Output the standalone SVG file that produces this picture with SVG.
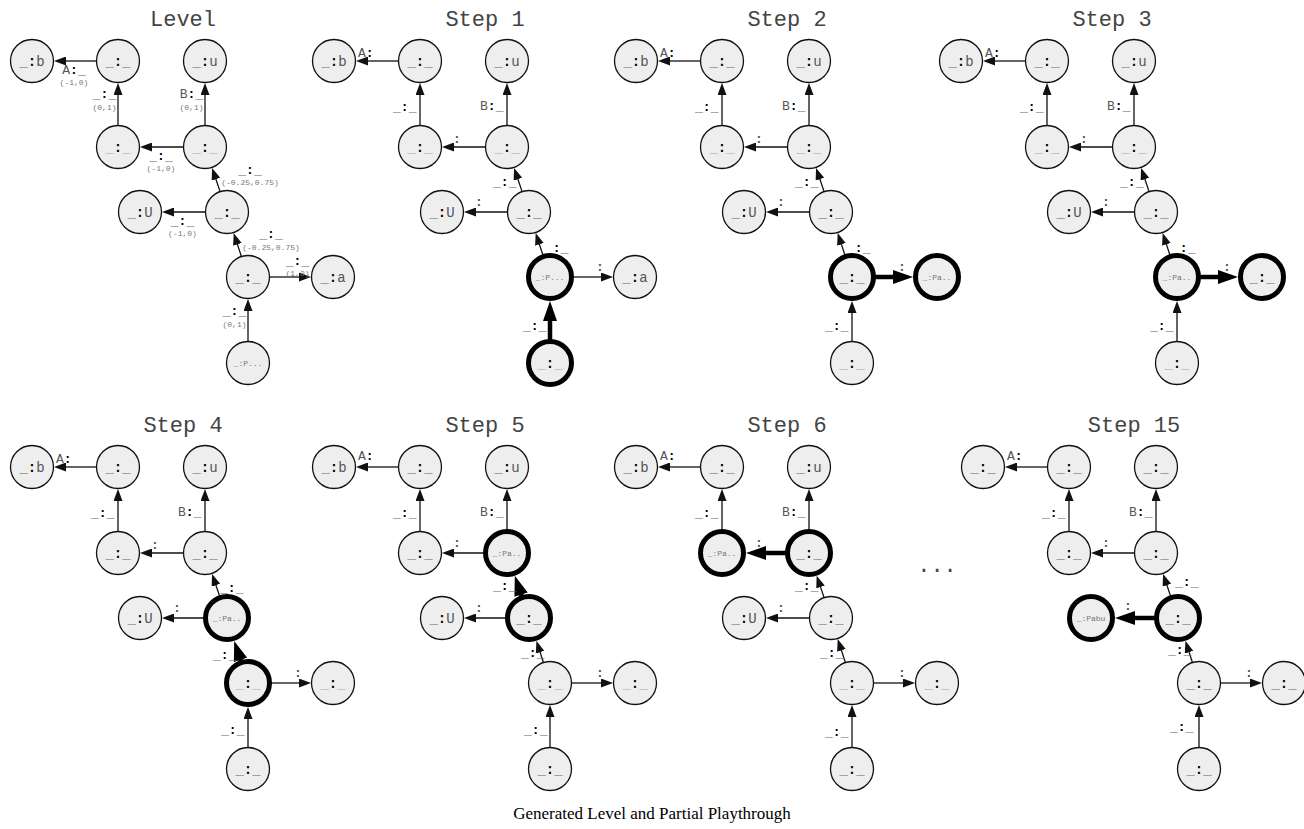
<svg xmlns="http://www.w3.org/2000/svg" width="1304" height="829" viewBox="0 0 1304 829">
<style>
.ttl{font-family:"Liberation Mono",monospace;font-size:22px;fill:#444;text-anchor:middle}
.n circle{fill:#eeeeee;stroke:#111;stroke-width:1.3}
.n.hl circle{stroke:#000;stroke-width:5}
.n text{font-family:"Liberation Mono",monospace;font-size:14px;fill:#555;text-anchor:middle}
.n text.sm{font-size:8px;fill:#777}
.k{fill:#000;font-weight:bold}
.us{fill:#666}
.ul{fill:#aaa}
.e line{stroke:#111;stroke-width:1.3;marker-end:url(#ah)}
.e line.th{stroke:#000;stroke-width:4.5;marker-end:url(#ahb)}
.el{font-family:"Liberation Mono",monospace;font-size:13px;fill:#555}
.lm{text-anchor:middle}
.co{font-family:"Liberation Mono",monospace;font-size:8px;fill:#777;text-anchor:middle}
.cap{font-family:"Liberation Serif",serif;font-size:17px;fill:#000;text-anchor:middle}
</style>
<defs>
<marker id="ah" markerUnits="userSpaceOnUse" markerWidth="12" markerHeight="9" refX="1" refY="4.5" orient="auto"><path d="M0,0L12,4.5L0,9z" fill="#111"/></marker>
<marker id="ahb" markerUnits="userSpaceOnUse" markerWidth="20" markerHeight="14" refX="1" refY="7" orient="auto"><path d="M0,0L20,7L0,14z" fill="#000"/></marker>
</defs>
<rect width="1304" height="829" fill="#fff"/>

<!-- Level -->
<g id="p-level">
<text class="ttl" x="183" y="26">Level</text>
<g id="lv-edges" class="e">
<line x1="96.5" y1="61" x2="65" y2="61"/>
<line x1="118" y1="125.5" x2="118" y2="94"/>
<line x1="205" y1="125.5" x2="205" y2="94"/>
<line x1="183.5" y1="147" x2="151" y2="147"/>
<line x1="220.1" y1="191.6" x2="215.6" y2="178.3"/>
<line x1="205.5" y1="212" x2="173" y2="212"/>
<line x1="241.4" y1="256.5" x2="237.1" y2="243.4"/>
<line x1="269.5" y1="277" x2="300" y2="277"/>
<line x1="248" y1="341.5" x2="248" y2="310"/>
</g>
<g id="lv-labels">
<text class="el lm" x="74" y="74">A<tspan class="k">:</tspan><tspan class="us">_</tspan></text><text class="co" x="74" y="85">(-1,0)</text>
<text class="el lm" x="104.5" y="98"><tspan class="us">_</tspan><tspan class="k">:</tspan><tspan class="us">_</tspan></text><text class="co" x="104.5" y="110">(0,1)</text>
<text class="el lm" x="191.5" y="98">B<tspan class="k">:</tspan><tspan class="us">_</tspan></text><text class="co" x="191.5" y="110">(0,1)</text>
<text class="el lm" x="161" y="160"><tspan class="us">_</tspan><tspan class="k">:</tspan><tspan class="us">_</tspan></text><text class="co" x="161" y="171">(-1,0)</text>
<text class="el lm" x="250" y="174"><tspan class="us">_</tspan><tspan class="k">:</tspan><tspan class="us">_</tspan></text><text class="co" x="250" y="185">(-0.25,0.75)</text>
<text class="el lm" x="182.5" y="225"><tspan class="us">_</tspan><tspan class="k">:</tspan><tspan class="us">_</tspan></text><text class="co" x="182.5" y="236">(-1,0)</text>
<text class="el lm" x="271" y="238"><tspan class="us">_</tspan><tspan class="k">:</tspan><tspan class="us">_</tspan></text><text class="co" x="271" y="250">(-0.25,0.75)</text>
<text class="el lm" x="297.5" y="265"><tspan class="us">_</tspan><tspan class="k">:</tspan><tspan class="us">_</tspan></text><text class="co" x="297.5" y="276">(1,0)</text>
<text class="el lm" x="234.5" y="315"><tspan class="us">_</tspan><tspan class="k">:</tspan><tspan class="us">_</tspan></text><text class="co" x="234.5" y="327">(0,1)</text>
</g>
<g id="lv-b" class="n" transform="translate(32,61)"><circle r="21.5"/><text y="5"><tspan class="us">_</tspan><tspan class="k">:</tspan>b</text></g>
<g id="lv-t1" class="n" transform="translate(118,61)"><circle r="21.5"/><text y="5"><tspan class="us">_</tspan><tspan class="k">:</tspan><tspan class="us">_</tspan></text></g>
<g id="lv-u" class="n" transform="translate(205,61)"><circle r="21.5"/><text y="5"><tspan class="us">_</tspan><tspan class="k">:</tspan>u</text></g>
<g id="lv-m1" class="n" transform="translate(118,147)"><circle r="21.5"/><text y="5"><tspan class="ul">_</tspan><tspan class="k">:</tspan><tspan class="ul">_</tspan></text></g>
<g id="lv-m2" class="n" transform="translate(205,147)"><circle r="21.5"/><text y="5"><tspan class="ul">_</tspan><tspan class="k">:</tspan><tspan class="ul">_</tspan></text></g>
<g id="lv-U" class="n" transform="translate(140,212)"><circle r="21.5"/><text y="5"><tspan class="us">_</tspan><tspan class="k">:</tspan>U</text></g>
<g id="lv-c" class="n" transform="translate(227,212)"><circle r="21.5"/><text y="5"><tspan class="us">_</tspan><tspan class="k">:</tspan><tspan class="us">_</tspan></text></g>
<g id="lv-d" class="n" transform="translate(248,277)"><circle r="21.5"/><text y="5"><tspan class="us">_</tspan><tspan class="k">:</tspan><tspan class="us">_</tspan></text></g>
<g id="lv-a" class="n" transform="translate(333,277)"><circle r="21.5"/><text y="5"><tspan class="us">_</tspan><tspan class="k">:</tspan>a</text></g>
<g id="lv-P" class="n" transform="translate(248,363)"><circle r="21.5"/><text class="sm" y="3">_:P...</text></g>
</g>

<!-- Step 1 -->
<g id="p-s1" transform="translate(302,0)">
<text class="ttl" x="183" y="26">Step 1</text>
<g id="s1-edges" class="e">
<line x1="96.5" y1="61" x2="65" y2="61"/>
<line x1="118" y1="125.5" x2="118" y2="94"/>
<line x1="205" y1="125.5" x2="205" y2="94"/>
<line x1="183.5" y1="147" x2="151" y2="147"/>
<line x1="220.1" y1="191.6" x2="215.6" y2="178.3"/>
<line x1="205.5" y1="212" x2="173" y2="212"/>
<line x1="241.4" y1="256.5" x2="237.1" y2="243.4"/>
<line x1="269.5" y1="277" x2="300" y2="277"/>
<line class="th" x1="248" y1="341.5" x2="248" y2="320"/>
</g>
<g id="s1-labels">
<text class="el" x="56" y="57">A<tspan class="k">:</tspan></text>
<text class="el" x="91" y="111"><tspan class="us">_</tspan><tspan class="k">:</tspan><tspan class="us">_</tspan></text>
<text class="el" x="178" y="110">B<tspan class="k">:</tspan><tspan class="us">_</tspan></text>
<text class="el lm k" x="155" y="143">:</text>
<text class="el" x="191" y="186"><tspan class="us">_</tspan><tspan class="k">:</tspan><tspan class="us">_</tspan></text>
<text class="el lm k" x="177" y="206">:</text>
<text class="el" x="243" y="252"><tspan class="us">_</tspan><tspan class="k">:</tspan><tspan class="us">_</tspan></text>
<text class="el lm k" x="298" y="271">:</text>
<text class="el" x="221" y="330"><tspan class="us">_</tspan><tspan class="k">:</tspan><tspan class="us">_</tspan></text>
</g>
<g id="s1-b" class="n" transform="translate(32,61)"><circle r="21.5"/><text y="5"><tspan class="us">_</tspan><tspan class="k">:</tspan>b</text></g>
<g id="s1-t1" class="n" transform="translate(118,61)"><circle r="21.5"/><text y="5"><tspan class="us">_</tspan><tspan class="k">:</tspan><tspan class="us">_</tspan></text></g>
<g id="s1-u" class="n" transform="translate(205,61)"><circle r="21.5"/><text y="5"><tspan class="us">_</tspan><tspan class="k">:</tspan>u</text></g>
<g id="s1-m1" class="n" transform="translate(118,147)"><circle r="21.5"/><text y="5"><tspan class="ul">_</tspan><tspan class="k">:</tspan><tspan class="ul">_</tspan></text></g>
<g id="s1-m2" class="n" transform="translate(205,147)"><circle r="21.5"/><text y="5"><tspan class="ul">_</tspan><tspan class="k">:</tspan><tspan class="ul">_</tspan></text></g>
<g id="s1-U" class="n" transform="translate(140,212)"><circle r="21.5"/><text y="5"><tspan class="us">_</tspan><tspan class="k">:</tspan>U</text></g>
<g id="s1-c" class="n" transform="translate(227,212)"><circle r="21.5"/><text y="5"><tspan class="us">_</tspan><tspan class="k">:</tspan><tspan class="us">_</tspan></text></g>
<g id="s1-d" class="n hl" transform="translate(248,277)"><circle r="21.5"/><text class="sm" y="3">_:P...</text></g>
<g id="s1-a" class="n" transform="translate(333,277)"><circle r="21.5"/><text y="5"><tspan class="us">_</tspan><tspan class="k">:</tspan>a</text></g>
<g id="s1-P" class="n hl" transform="translate(248,363)"><circle r="21.5"/><text y="5"><tspan class="ul">_</tspan><tspan class="k">:</tspan><tspan class="ul">_</tspan></text></g>
</g>

<!-- Step 2 -->
<g id="p-s2" transform="translate(604,0)">
<text class="ttl" x="183" y="26">Step 2</text>
<g id="s2-edges" class="e">
<line x1="96.5" y1="61" x2="65" y2="61"/>
<line x1="118" y1="125.5" x2="118" y2="94"/>
<line x1="205" y1="125.5" x2="205" y2="94"/>
<line x1="183.5" y1="147" x2="151" y2="147"/>
<line x1="220.1" y1="191.6" x2="215.6" y2="178.3"/>
<line x1="205.5" y1="212" x2="173" y2="212"/>
<line x1="241.4" y1="256.5" x2="237.1" y2="243.4"/>
<line class="th" x1="269.5" y1="277" x2="290" y2="277"/>
<line x1="248" y1="341.5" x2="248" y2="312"/>
</g>
<g id="s2-labels">
<text class="el" x="56" y="57">A<tspan class="k">:</tspan></text>
<text class="el" x="91" y="111"><tspan class="us">_</tspan><tspan class="k">:</tspan><tspan class="us">_</tspan></text>
<text class="el" x="178" y="110">B<tspan class="k">:</tspan><tspan class="us">_</tspan></text>
<text class="el lm k" x="155" y="143">:</text>
<text class="el" x="191" y="186"><tspan class="us">_</tspan><tspan class="k">:</tspan><tspan class="us">_</tspan></text>
<text class="el lm k" x="177" y="206">:</text>
<text class="el" x="243" y="252"><tspan class="us">_</tspan><tspan class="k">:</tspan><tspan class="us">_</tspan></text>
<text class="el lm k" x="298" y="271">:</text>
<text class="el" x="221" y="330"><tspan class="us">_</tspan><tspan class="k">:</tspan><tspan class="us">_</tspan></text>
</g>
<g id="s2-b" class="n" transform="translate(32,61)"><circle r="21.5"/><text y="5"><tspan class="us">_</tspan><tspan class="k">:</tspan>b</text></g>
<g id="s2-t1" class="n" transform="translate(118,61)"><circle r="21.5"/><text y="5"><tspan class="us">_</tspan><tspan class="k">:</tspan><tspan class="us">_</tspan></text></g>
<g id="s2-u" class="n" transform="translate(205,61)"><circle r="21.5"/><text y="5"><tspan class="us">_</tspan><tspan class="k">:</tspan>u</text></g>
<g id="s2-m1" class="n" transform="translate(118,147)"><circle r="21.5"/><text y="5"><tspan class="ul">_</tspan><tspan class="k">:</tspan><tspan class="ul">_</tspan></text></g>
<g id="s2-m2" class="n" transform="translate(205,147)"><circle r="21.5"/><text y="5"><tspan class="ul">_</tspan><tspan class="k">:</tspan><tspan class="ul">_</tspan></text></g>
<g id="s2-U" class="n" transform="translate(140,212)"><circle r="21.5"/><text y="5"><tspan class="us">_</tspan><tspan class="k">:</tspan>U</text></g>
<g id="s2-c" class="n" transform="translate(227,212)"><circle r="21.5"/><text y="5"><tspan class="us">_</tspan><tspan class="k">:</tspan><tspan class="us">_</tspan></text></g>
<g id="s2-d" class="n hl" transform="translate(248,277)"><circle r="21.5"/><text y="5"><tspan class="us">_</tspan><tspan class="k">:</tspan><tspan class="us">_</tspan></text></g>
<g id="s2-a" class="n hl" transform="translate(333,277)"><circle r="21.5"/><text class="sm" y="3">_:Pa..</text></g>
<g id="s2-P" class="n" transform="translate(248,363)"><circle r="21.5"/><text y="5"><tspan class="ul">_</tspan><tspan class="k">:</tspan><tspan class="ul">_</tspan></text></g>
</g>

<!-- Step 3 -->
<g id="p-s3" transform="translate(929,0)">
<text class="ttl" x="183" y="26">Step 3</text>
<g id="s3-edges" class="e">
<line x1="96.5" y1="61" x2="65" y2="61"/>
<line x1="118" y1="125.5" x2="118" y2="94"/>
<line x1="205" y1="125.5" x2="205" y2="94"/>
<line x1="183.5" y1="147" x2="151" y2="147"/>
<line x1="220.1" y1="191.6" x2="215.6" y2="178.3"/>
<line x1="205.5" y1="212" x2="173" y2="212"/>
<line x1="241.4" y1="256.5" x2="237.1" y2="243.4"/>
<line class="th" x1="269.5" y1="277" x2="290" y2="277"/>
<line x1="248" y1="341.5" x2="248" y2="312"/>
</g>
<g id="s3-labels">
<text class="el" x="56" y="57">A<tspan class="k">:</tspan></text>
<text class="el" x="91" y="111"><tspan class="us">_</tspan><tspan class="k">:</tspan><tspan class="us">_</tspan></text>
<text class="el" x="178" y="110">B<tspan class="k">:</tspan><tspan class="us">_</tspan></text>
<text class="el lm k" x="155" y="143">:</text>
<text class="el" x="191" y="186"><tspan class="us">_</tspan><tspan class="k">:</tspan><tspan class="us">_</tspan></text>
<text class="el lm k" x="177" y="206">:</text>
<text class="el" x="243" y="252"><tspan class="us">_</tspan><tspan class="k">:</tspan><tspan class="us">_</tspan></text>
<text class="el lm k" x="298" y="271">:</text>
<text class="el" x="221" y="330"><tspan class="us">_</tspan><tspan class="k">:</tspan><tspan class="us">_</tspan></text>
</g>
<g id="s3-b" class="n" transform="translate(32,61)"><circle r="21.5"/><text y="5"><tspan class="us">_</tspan><tspan class="k">:</tspan>b</text></g>
<g id="s3-t1" class="n" transform="translate(118,61)"><circle r="21.5"/><text y="5"><tspan class="us">_</tspan><tspan class="k">:</tspan><tspan class="us">_</tspan></text></g>
<g id="s3-u" class="n" transform="translate(205,61)"><circle r="21.5"/><text y="5"><tspan class="us">_</tspan><tspan class="k">:</tspan>u</text></g>
<g id="s3-m1" class="n" transform="translate(118,147)"><circle r="21.5"/><text y="5"><tspan class="ul">_</tspan><tspan class="k">:</tspan><tspan class="ul">_</tspan></text></g>
<g id="s3-m2" class="n" transform="translate(205,147)"><circle r="21.5"/><text y="5"><tspan class="ul">_</tspan><tspan class="k">:</tspan><tspan class="ul">_</tspan></text></g>
<g id="s3-U" class="n" transform="translate(140,212)"><circle r="21.5"/><text y="5"><tspan class="us">_</tspan><tspan class="k">:</tspan>U</text></g>
<g id="s3-c" class="n" transform="translate(227,212)"><circle r="21.5"/><text y="5"><tspan class="us">_</tspan><tspan class="k">:</tspan><tspan class="us">_</tspan></text></g>
<g id="s3-d" class="n hl" transform="translate(248,277)"><circle r="21.5"/><text class="sm" y="3">_:Pa..</text></g>
<g id="s3-a" class="n hl" transform="translate(333,277)"><circle r="21.5"/><text y="5"><tspan class="us">_</tspan><tspan class="k">:</tspan><tspan class="us">_</tspan></text></g>
<g id="s3-P" class="n" transform="translate(248,363)"><circle r="21.5"/><text y="5"><tspan class="ul">_</tspan><tspan class="k">:</tspan><tspan class="ul">_</tspan></text></g>
</g>

<!-- Step 4 -->
<g id="p-s4" transform="translate(0,406)">
<text class="ttl" x="183" y="26">Step 4</text>
<g id="s4-edges" class="e">
<line x1="96.5" y1="61" x2="65" y2="61"/>
<line x1="118" y1="125.5" x2="118" y2="94"/>
<line x1="205" y1="125.5" x2="205" y2="94"/>
<line x1="183.5" y1="147" x2="151" y2="147"/>
<line x1="220.1" y1="191.6" x2="215.6" y2="178.3"/>
<line x1="205.5" y1="212" x2="173" y2="212"/>
<line class="th" x1="241.4" y1="256.5" x2="240.2" y2="252.9"/>
<line x1="269.5" y1="277" x2="300" y2="277"/>
<line x1="248" y1="341.5" x2="248" y2="312"/>
</g>
<g id="s4-labels">
<text class="el" x="56" y="57">A<tspan class="k">:</tspan></text>
<text class="el" x="91" y="111"><tspan class="us">_</tspan><tspan class="k">:</tspan><tspan class="us">_</tspan></text>
<text class="el" x="178" y="110">B<tspan class="k">:</tspan><tspan class="us">_</tspan></text>
<text class="el lm k" x="155" y="143">:</text>
<text class="el" x="220" y="186"><tspan class="us">_</tspan><tspan class="k">:</tspan><tspan class="us">_</tspan></text>
<text class="el lm k" x="177" y="206">:</text>
<text class="el" x="213" y="253"><tspan class="us">_</tspan><tspan class="k">:</tspan><tspan class="us">_</tspan></text>
<text class="el lm k" x="298" y="271">:</text>
<text class="el" x="221" y="328"><tspan class="us">_</tspan><tspan class="k">:</tspan><tspan class="us">_</tspan></text>
</g>
<g id="s4-b" class="n" transform="translate(32,61)"><circle r="21.5"/><text y="5"><tspan class="us">_</tspan><tspan class="k">:</tspan>b</text></g>
<g id="s4-t1" class="n" transform="translate(118,61)"><circle r="21.5"/><text y="5"><tspan class="us">_</tspan><tspan class="k">:</tspan><tspan class="us">_</tspan></text></g>
<g id="s4-u" class="n" transform="translate(205,61)"><circle r="21.5"/><text y="5"><tspan class="us">_</tspan><tspan class="k">:</tspan>u</text></g>
<g id="s4-m1" class="n" transform="translate(118,147)"><circle r="21.5"/><text y="5"><tspan class="us">_</tspan><tspan class="k">:</tspan><tspan class="us">_</tspan></text></g>
<g id="s4-m2" class="n" transform="translate(205,147)"><circle r="21.5"/><text y="5"><tspan class="us">_</tspan><tspan class="k">:</tspan><tspan class="us">_</tspan></text></g>
<g id="s4-U" class="n" transform="translate(140,212)"><circle r="21.5"/><text y="5"><tspan class="us">_</tspan><tspan class="k">:</tspan>U</text></g>
<g id="s4-c" class="n hl" transform="translate(227,212)"><circle r="21.5"/><text class="sm" y="3">_:Pa..</text></g>
<g id="s4-d" class="n hl" transform="translate(248,277)"><circle r="21.5"/><text y="5"><tspan class="ul">_</tspan><tspan class="k">:</tspan><tspan class="ul">_</tspan></text></g>
<g id="s4-a" class="n" transform="translate(333,277)"><circle r="21.5"/><text y="5"><tspan class="ul">_</tspan><tspan class="k">:</tspan><tspan class="ul">_</tspan></text></g>
<g id="s4-P" class="n" transform="translate(248,363)"><circle r="21.5"/><text y="5"><tspan class="us">_</tspan><tspan class="k">:</tspan><tspan class="us">_</tspan></text></g>
</g>

<!-- Step 5 -->
<g id="p-s5" transform="translate(302,406)">
<text class="ttl" x="183" y="26">Step 5</text>
<g id="s5-edges" class="e">
<line x1="96.5" y1="61" x2="65" y2="61"/>
<line x1="118" y1="125.5" x2="118" y2="94"/>
<line x1="205" y1="125.5" x2="205" y2="94"/>
<line x1="183.5" y1="147" x2="151" y2="147"/>
<line class="th" x1="220.1" y1="191.6" x2="218.8" y2="187.7"/>
<line x1="205.5" y1="212" x2="173" y2="212"/>
<line x1="241.4" y1="256.5" x2="237.8" y2="245.3"/>
<line x1="269.5" y1="277" x2="300" y2="277"/>
<line x1="248" y1="341.5" x2="248" y2="310"/>
</g>
<g id="s5-labels">
<text class="el" x="56" y="54">A<tspan class="k">:</tspan></text>
<text class="el" x="91" y="111"><tspan class="us">_</tspan><tspan class="k">:</tspan><tspan class="us">_</tspan></text>
<text class="el" x="178" y="110">B<tspan class="k">:</tspan><tspan class="us">_</tspan></text>
<text class="el lm k" x="155" y="141">:</text>
<text class="el" x="191" y="184"><tspan class="us">_</tspan><tspan class="k">:</tspan><tspan class="us">_</tspan></text>
<text class="el lm k" x="177" y="206">:</text>
<text class="el" x="219" y="251"><tspan class="us">_</tspan><tspan class="k">:</tspan><tspan class="us">_</tspan></text>
<text class="el lm k" x="298" y="271">:</text>
<text class="el" x="222" y="328"><tspan class="us">_</tspan><tspan class="k">:</tspan><tspan class="us">_</tspan></text>
</g>
<g id="s5-b" class="n" transform="translate(32,61)"><circle r="21.5"/><text y="5"><tspan class="us">_</tspan><tspan class="k">:</tspan>b</text></g>
<g id="s5-t1" class="n" transform="translate(118,61)"><circle r="21.5"/><text y="5"><tspan class="us">_</tspan><tspan class="k">:</tspan><tspan class="us">_</tspan></text></g>
<g id="s5-u" class="n" transform="translate(205,61)"><circle r="21.5"/><text y="5"><tspan class="us">_</tspan><tspan class="k">:</tspan>u</text></g>
<g id="s5-m1" class="n" transform="translate(118,147)"><circle r="21.5"/><text y="5"><tspan class="us">_</tspan><tspan class="k">:</tspan><tspan class="us">_</tspan></text></g>
<g id="s5-m2" class="n hl" transform="translate(205,147)"><circle r="21.5"/><text class="sm" y="3">_:Pa..</text></g>
<g id="s5-U" class="n" transform="translate(140,212)"><circle r="21.5"/><text y="5"><tspan class="us">_</tspan><tspan class="k">:</tspan>U</text></g>
<g id="s5-c" class="n hl" transform="translate(227,212)"><circle r="21.5"/><text y="5"><tspan class="us">_</tspan><tspan class="k">:</tspan><tspan class="us">_</tspan></text></g>
<g id="s5-d" class="n" transform="translate(248,277)"><circle r="21.5"/><text y="5"><tspan class="ul">_</tspan><tspan class="k">:</tspan><tspan class="ul">_</tspan></text></g>
<g id="s5-a" class="n" transform="translate(333,277)"><circle r="21.5"/><text y="5"><tspan class="ul">_</tspan><tspan class="k">:</tspan><tspan class="ul">_</tspan></text></g>
<g id="s5-P" class="n" transform="translate(248,363)"><circle r="21.5"/><text y="5"><tspan class="us">_</tspan><tspan class="k">:</tspan><tspan class="us">_</tspan></text></g>
</g>

<!-- Step 6 -->
<g id="p-s6" transform="translate(604,406)">
<text class="ttl" x="183" y="26">Step 6</text>
<g id="s6-edges" class="e">
<line x1="96.5" y1="61" x2="65" y2="61"/>
<line x1="118" y1="125.5" x2="118" y2="94"/>
<line x1="205" y1="125.5" x2="205" y2="94"/>
<line class="th" x1="183.5" y1="147" x2="161" y2="147"/>
<line x1="220.1" y1="191.6" x2="216.2" y2="180.1"/>
<line x1="205.5" y1="212" x2="173" y2="212"/>
<line x1="241.4" y1="256.5" x2="237.1" y2="243.4"/>
<line x1="269.5" y1="277" x2="300" y2="277"/>
<line x1="248" y1="341.5" x2="248" y2="310"/>
</g>
<g id="s6-labels">
<text class="el" x="56" y="54">A<tspan class="k">:</tspan></text>
<text class="el" x="91" y="111"><tspan class="us">_</tspan><tspan class="k">:</tspan><tspan class="us">_</tspan></text>
<text class="el" x="178" y="110">B<tspan class="k">:</tspan><tspan class="us">_</tspan></text>
<text class="el lm k" x="155" y="141">:</text>
<text class="el" x="191" y="184"><tspan class="us">_</tspan><tspan class="k">:</tspan><tspan class="us">_</tspan></text>
<text class="el lm k" x="177" y="206">:</text>
<text class="el" x="216" y="251"><tspan class="us">_</tspan><tspan class="k">:</tspan><tspan class="us">_</tspan></text>
<text class="el lm k" x="298" y="271">:</text>
<text class="el" x="221" y="330"><tspan class="us">_</tspan><tspan class="k">:</tspan><tspan class="us">_</tspan></text>
</g>
<g id="s6-b" class="n" transform="translate(32,61)"><circle r="21.5"/><text y="5"><tspan class="us">_</tspan><tspan class="k">:</tspan>b</text></g>
<g id="s6-t1" class="n" transform="translate(118,61)"><circle r="21.5"/><text y="5"><tspan class="us">_</tspan><tspan class="k">:</tspan><tspan class="us">_</tspan></text></g>
<g id="s6-u" class="n" transform="translate(205,61)"><circle r="21.5"/><text y="5"><tspan class="us">_</tspan><tspan class="k">:</tspan>u</text></g>
<g id="s6-m1" class="n hl" transform="translate(118,147)"><circle r="21.5"/><text class="sm" y="3">_:Pa..</text></g>
<g id="s6-m2" class="n hl" transform="translate(205,147)"><circle r="21.5"/><text y="5"><tspan class="us">_</tspan><tspan class="k">:</tspan><tspan class="us">_</tspan></text></g>
<g id="s6-U" class="n" transform="translate(140,212)"><circle r="21.5"/><text y="5"><tspan class="us">_</tspan><tspan class="k">:</tspan>U</text></g>
<g id="s6-c" class="n" transform="translate(227,212)"><circle r="21.5"/><text y="5"><tspan class="us">_</tspan><tspan class="k">:</tspan><tspan class="us">_</tspan></text></g>
<g id="s6-d" class="n" transform="translate(248,277)"><circle r="21.5"/><text y="5"><tspan class="ul">_</tspan><tspan class="k">:</tspan><tspan class="ul">_</tspan></text></g>
<g id="s6-a" class="n" transform="translate(333,277)"><circle r="21.5"/><text y="5"><tspan class="ul">_</tspan><tspan class="k">:</tspan><tspan class="ul">_</tspan></text></g>
<g id="s6-P" class="n" transform="translate(248,363)"><circle r="21.5"/><text y="5"><tspan class="us">_</tspan><tspan class="k">:</tspan><tspan class="us">_</tspan></text></g>
</g>

<text id="ellipsis" class="ttl" x="937" y="572">...</text>

<!-- Step 15 -->
<g id="p-s15" transform="translate(951,406)">
<text class="ttl" x="183" y="26">Step 15</text>
<g id="s15-edges" class="e">
<line x1="96.5" y1="61" x2="65" y2="61"/>
<line x1="118" y1="125.5" x2="118" y2="94"/>
<line x1="205" y1="125.5" x2="205" y2="94"/>
<line x1="183.5" y1="147" x2="151" y2="147"/>
<line x1="220.1" y1="191.6" x2="215.6" y2="178.3"/>
<line class="th" x1="205.5" y1="212" x2="183" y2="212"/>
<line x1="241.4" y1="256.5" x2="237.8" y2="245.3"/>
<line x1="269.5" y1="277" x2="300" y2="277"/>
<line x1="248" y1="341.5" x2="248" y2="310"/>
</g>
<g id="s15-labels">
<text class="el" x="56" y="54">A<tspan class="k">:</tspan></text>
<text class="el" x="91" y="111"><tspan class="us">_</tspan><tspan class="k">:</tspan><tspan class="us">_</tspan></text>
<text class="el" x="178" y="110">B<tspan class="k">:</tspan><tspan class="us">_</tspan></text>
<text class="el lm k" x="155" y="141">:</text>
<text class="el" x="224" y="180"><tspan class="us">_</tspan><tspan class="k">:</tspan><tspan class="us">_</tspan></text>
<text class="el lm k" x="177" y="204">:</text>
<text class="el" x="217" y="248"><tspan class="us">_</tspan><tspan class="k">:</tspan><tspan class="us">_</tspan></text>
<text class="el lm k" x="298" y="271">:</text>
<text class="el" x="219" y="325"><tspan class="us">_</tspan><tspan class="k">:</tspan><tspan class="us">_</tspan></text>
</g>
<g id="s15-b" class="n" transform="translate(32,61)"><circle r="21.5"/><text y="5"><tspan class="us">_</tspan><tspan class="k">:</tspan><tspan class="us">_</tspan></text></g>
<g id="s15-t1" class="n" transform="translate(118,61)"><circle r="21.5"/><text y="5"><tspan class="us">_</tspan><tspan class="k">:</tspan><tspan class="us">_</tspan></text></g>
<g id="s15-u" class="n" transform="translate(205,61)"><circle r="21.5"/><text y="5"><tspan class="us">_</tspan><tspan class="k">:</tspan><tspan class="us">_</tspan></text></g>
<g id="s15-m1" class="n" transform="translate(118,147)"><circle r="21.5"/><text y="5"><tspan class="us">_</tspan><tspan class="k">:</tspan><tspan class="us">_</tspan></text></g>
<g id="s15-m2" class="n" transform="translate(205,147)"><circle r="21.5"/><text y="5"><tspan class="us">_</tspan><tspan class="k">:</tspan><tspan class="us">_</tspan></text></g>
<g id="s15-U" class="n hl" transform="translate(140,212)"><circle r="21.5"/><text class="sm" y="3">_:Pabu</text></g>
<g id="s15-c" class="n hl" transform="translate(227,212)"><circle r="21.5"/><text y="5"><tspan class="us">_</tspan><tspan class="k">:</tspan><tspan class="us">_</tspan></text></g>
<g id="s15-d" class="n" transform="translate(248,277)"><circle r="21.5"/><text y="5"><tspan class="us">_</tspan><tspan class="k">:</tspan><tspan class="us">_</tspan></text></g>
<g id="s15-a" class="n" transform="translate(333,277)"><circle r="21.5"/><text y="5"><tspan class="us">_</tspan><tspan class="k">:</tspan><tspan class="us">_</tspan></text></g>
<g id="s15-P" class="n" transform="translate(248,363)"><circle r="21.5"/><text y="5"><tspan class="us">_</tspan><tspan class="k">:</tspan><tspan class="us">_</tspan></text></g>
</g>

<text class="cap" x="652" y="819">Generated Level and Partial Playthrough</text>
</svg>
